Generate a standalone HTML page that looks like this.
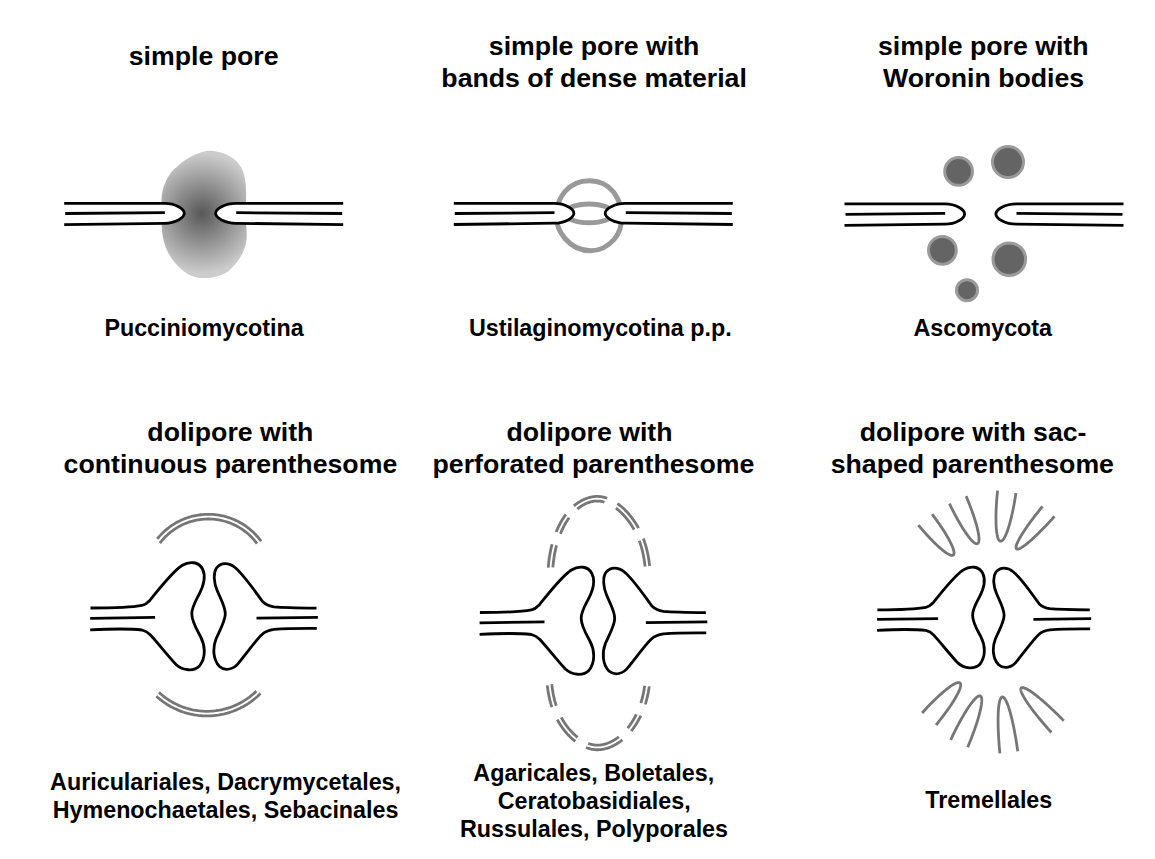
<!DOCTYPE html>
<html><head><meta charset="utf-8"><title>Septal pore types</title>
<style>html,body{margin:0;padding:0;background:#fff;width:1155px;height:859px;overflow:hidden}
svg text{font-family:"Liberation Sans",sans-serif;font-weight:bold;fill:#000}</style></head>
<body><div style="position:relative;width:1155px;height:859px">
<svg width="1155" height="859" viewBox="0 0 1155 859" style="position:absolute;left:0;top:0">
<defs><radialGradient id="blob" gradientUnits="userSpaceOnUse" cx="202" cy="213.5" r="60"><stop offset="0" stop-color="#585858"/><stop offset="1" stop-color="#cccccc"/></radialGradient></defs>
<path d="M207.6 150.8 C222 150.5 235 157 241 167 C245.5 175 246.5 186 246 199 L245.5 213 C245.3 222 247.5 230 246.5 240 C245 252 238 263 228 271.5 C220 277 210 278.5 201 278 C190 277.5 180 270 172 259 C165 249 161.8 237 161.8 225 L161.5 200 C162 188 166 179 171.5 172 C180 163 193 153 207.6 150.8Z" fill="url(#blob)"/>
<path d="M64.2 203.4 L164.7 203.4 C175.53 203.4 184.3 208.87 184.3 213.35 C184.3 217.83 175.53 223.3 164.7 223.3 L64.2 224.6Z" fill="#fff" stroke="none"/><path d="M343.2 203.4 L236 203.4 C224.73 203.4 215.6 208.87 215.6 213.35 C215.6 217.83 224.73 223.3 236 223.3 L343.2 224.6Z" fill="#fff" stroke="none"/><path d="M64.2 203.4 L164.7 203.4 C175.53 203.4 184.3 208.87 184.3 213.35 C184.3 217.83 175.53 223.3 164.7 223.3 L64.2 224.6" fill="none" stroke="#000" stroke-width="2.8"/><path d="M343.2 203.4 L236 203.4 C224.73 203.4 215.6 208.87 215.6 213.35 C215.6 217.83 224.73 223.3 236 223.3 L343.2 224.6" fill="none" stroke="#000" stroke-width="2.8"/><path d="M65.2 213.5 L164.9 212.7 M236.2 212.7 L342.2 213.5" stroke="#000" stroke-width="2.8" fill="none"/>
<path d="M589.5 180.7 C600 180.7 608 185 613.5 192 C619 199.5 621.8 207 621.8 216 C621.8 227 619.5 233 614.5 239 C608.5 246 600 250.7 590.5 250.7 C580 250.7 571 245.5 565 238.5 C559.5 232 556.3 225 556.3 216 C556.3 206 559.5 198 565 191.5 C571 184.5 579 180.7 589.5 180.7Z" fill="none" stroke="#999" stroke-width="5"/>
<ellipse cx="589" cy="213.4" rx="24" ry="9.4" fill="none" stroke="#999" stroke-width="5"/>
<path d="M453.8 203.4 L554.3 203.4 C565.13 203.4 573.9 208.85 573.9 213.3 C573.9 217.75 565.13 223.2 554.3 223.2 L453.8 224.5Z" fill="#fff" stroke="none"/><path d="M732.8 203.4 L625.6 203.4 C614.33 203.4 605.2 208.85 605.2 213.3 C605.2 217.75 614.33 223.2 625.6 223.2 L732.8 224.5Z" fill="#fff" stroke="none"/><path d="M453.8 203.4 L554.3 203.4 C565.13 203.4 573.9 208.85 573.9 213.3 C573.9 217.75 565.13 223.2 554.3 223.2 L453.8 224.5" fill="none" stroke="#000" stroke-width="2.8"/><path d="M732.8 203.4 L625.6 203.4 C614.33 203.4 605.2 208.85 605.2 213.3 C605.2 217.75 614.33 223.2 625.6 223.2 L732.8 224.5" fill="none" stroke="#000" stroke-width="2.8"/><path d="M454.8 213.5 L554.5 212.7 M625.8 212.7 L731.8 213.5" stroke="#000" stroke-width="2.8" fill="none"/>
<circle cx="958.6" cy="171.4" r="13.90" fill="#646464" stroke="#9a9a9a" stroke-width="3"/>
<circle cx="1008" cy="162.1" r="15.50" fill="#646464" stroke="#9a9a9a" stroke-width="3"/>
<circle cx="942.4" cy="250.3" r="13.90" fill="#646464" stroke="#9a9a9a" stroke-width="3"/>
<circle cx="1009.3" cy="259.2" r="16.30" fill="#646464" stroke="#9a9a9a" stroke-width="3"/>
<circle cx="967" cy="290.2" r="10.50" fill="#646464" stroke="#9a9a9a" stroke-width="3"/>
<path d="M844.5 203.8 L945 203.8 C955.83 203.8 964.6 209.38 964.6 213.95 C964.6 218.52 955.83 224.1 945 224.1 L844.5 225.4Z" fill="#fff" stroke="none"/><path d="M1123.5 203.8 L1016.3 203.8 C1005.03 203.8 995.9 209.38 995.9 213.95 C995.9 218.52 1005.03 224.1 1016.3 224.1 L1123.5 225.4Z" fill="#fff" stroke="none"/><path d="M844.5 203.8 L945 203.8 C955.83 203.8 964.6 209.38 964.6 213.95 C964.6 218.52 955.83 224.1 945 224.1 L844.5 225.4" fill="none" stroke="#000" stroke-width="2.8"/><path d="M1123.5 203.8 L1016.3 203.8 C1005.03 203.8 995.9 209.38 995.9 213.95 C995.9 218.52 1005.03 224.1 1016.3 224.1 L1123.5 225.4" fill="none" stroke="#000" stroke-width="2.8"/><path d="M845.5 214.3 L945.2 213.4 M1016.5 213.4 L1122.5 214.3" stroke="#000" stroke-width="2.8" fill="none"/>
<path d="M90.5 608 C115 608 133 607.2 142 605.4 C145 604.8 147 603.5 149.5 600.8 C160 588 172 572 182 565.5 C190 560.5 199 562 202.5 569 C206 576 203.5 586 199 594.5 C195 602 191.5 608 191.8 614 C192 622 197 630 200.5 636.5 C205 645 206.5 657 199.5 666 C194 671.5 183 671 176 664.5 C168 656 157 642 150.5 635 C148 632.3 145.5 630.8 142 630 C132 628.8 115 628.6 90.2 629.9" fill="none" stroke="#000" stroke-width="2.8" stroke-linejoin="round"/><path d="M316.5 608.1 C300 607.9 282 607.5 274 606.8 C269 606.2 265.5 604.5 262.5 601.5 C254 590 244 575 235 567.5 C229 562.5 221 562 216.5 568 C213 573 214 583 217 590 C219.5 597 225.3 606 225.3 614 C225.3 621 219 632 216 639 C212.5 648 213 660 219.5 666.5 C225 671.5 234 669.5 239 662.5 C246 654 256 640 262 634.5 C265 631.5 268.5 630 274 629.3 C285 628.5 300 628.3 316.8 628.4" fill="none" stroke="#000" stroke-width="2.8" stroke-linejoin="round"/><path d="M90.2 618.3 L155.1 617.3" fill="none" stroke="#000" stroke-width="2.8"/><path d="M256.5 618.2 L317.9 617.4" fill="none" stroke="#000" stroke-width="2.8"/>
<path d="M157.2 538.95 L158.49 537.37 L159.83 535.84 L161.22 534.35 L162.65 532.9 L164.13 531.5 L165.66 530.15 L167.22 528.84 L168.82 527.58 L170.47 526.38 L172.15 525.22 L173.86 524.12 L175.61 523.07 L177.39 522.08 L179.2 521.14 L181.04 520.26 L182.9 519.44 L184.79 518.68 L186.7 517.97 L188.64 517.33 L190.59 516.75 L192.56 516.23 L194.54 515.77 L196.54 515.37 L198.55 515.03 L200.57 514.76 L202.6 514.55 L204.63 514.4 L206.67 514.32 L208.71 514.3 L210.74 514.35 L212.78 514.45 L214.81 514.63 L216.83 514.86 L218.85 515.16 L220.85 515.52 L222.85 515.94 L224.83 516.43 L226.79 516.97 L228.74 517.58 L230.66 518.25 L232.56 518.98 L234.44 519.76 L236.3 520.61 L238.13 521.51 L239.92 522.47 L241.69 523.48 L243.43 524.55 L245.13 525.68 L246.79 526.85 L248.42 528.08 L250.01 529.35 L251.55 530.68 L253.06 532.05 L254.52 533.47 L255.94 534.94 L257.31 536.45 L258.63 538 L259.91 539.59 L261.13 541.22" fill="none" stroke="#767676" stroke-width="2.8"/>
<path d="M159.9 543.13 L161.08 541.62 L162.3 540.15 L163.56 538.73 L164.87 537.34 L166.22 535.99 L167.62 534.69 L169.05 533.43 L170.53 532.21 L172.04 531.05 L173.59 529.93 L175.17 528.86 L176.78 527.84 L178.43 526.87 L180.1 525.96 L181.81 525.1 L183.54 524.29 L185.29 523.54 L187.07 522.84 L188.87 522.2 L190.69 521.62 L192.52 521.09 L194.37 520.62 L196.24 520.21 L198.11 519.86 L200 519.57 L201.89 519.34 L203.8 519.17 L205.7 519.06 L207.61 519 L209.52 519.01 L211.43 519.08 L213.33 519.21 L215.23 519.4 L217.12 519.65 L219.01 519.95 L220.88 520.32 L222.74 520.75 L224.59 521.23 L226.42 521.77 L228.23 522.37 L230.03 523.03 L231.8 523.74 L233.54 524.51 L235.27 525.33 L236.96 526.21 L238.63 527.14 L240.27 528.12 L241.87 529.15 L243.45 530.23 L244.98 531.36 L246.49 532.54 L247.95 533.77 L249.37 535.04 L250.76 536.36 L252.1 537.72 L253.39 539.12 L254.65 540.56 L255.85 542.04 L257.01 543.55" fill="none" stroke="#767676" stroke-width="2.8"/>
<path d="M156.33 696.2 L157.79 697.5 L159.28 698.76 L160.8 699.98 L162.35 701.16 L163.94 702.3 L165.55 703.4 L167.19 704.46 L168.86 705.48 L170.55 706.45 L172.27 707.37 L174.01 708.26 L175.78 709.09 L177.56 709.88 L179.37 710.62 L181.19 711.32 L183.03 711.97 L184.89 712.57 L186.76 713.12 L188.65 713.62 L190.55 714.07 L192.46 714.48 L194.38 714.83 L196.31 715.13 L198.25 715.39 L200.19 715.59 L202.13 715.74 L204.08 715.84 L206.03 715.89 L207.99 715.89 L209.94 715.84 L211.89 715.74 L213.84 715.59 L215.78 715.38 L217.71 715.13 L219.64 714.83 L221.56 714.47 L223.47 714.07 L225.37 713.62 L227.26 713.11 L229.13 712.56 L230.99 711.96 L232.83 711.31 L234.65 710.62 L236.46 709.87 L238.24 709.08 L240.01 708.25 L241.75 707.36 L243.47 706.44 L245.16 705.47 L246.83 704.45 L248.47 703.39 L250.08 702.29 L251.67 701.15 L253.22 699.97 L254.74 698.74 L256.23 697.48 L257.69 696.18 L259.11 694.84 L260.49 693.47" fill="none" stroke="#767676" stroke-width="2.8"/>
<path d="M158.99 692.39 L160.34 693.61 L161.72 694.8 L163.13 695.96 L164.57 697.07 L166.03 698.15 L167.53 699.19 L169.05 700.2 L170.6 701.16 L172.17 702.08 L173.77 702.96 L175.38 703.8 L177.02 704.6 L178.68 705.35 L180.36 706.06 L182.05 706.73 L183.77 707.36 L185.49 707.93 L187.24 708.47 L188.99 708.96 L190.76 709.4 L192.54 709.8 L194.32 710.15 L196.12 710.45 L197.92 710.71 L199.73 710.92 L201.55 711.09 L203.37 711.21 L205.19 711.28 L207.01 711.3 L208.83 711.28 L210.65 711.21 L212.47 711.09 L214.29 710.92 L216.1 710.71 L217.9 710.45 L219.7 710.15 L221.48 709.79 L223.26 709.4 L225.03 708.95 L226.78 708.46 L228.53 707.93 L230.25 707.35 L231.97 706.72 L233.66 706.06 L235.34 705.34 L237 704.59 L238.64 703.79 L240.25 702.95 L241.85 702.07 L243.42 701.15 L244.97 700.19 L246.49 699.18 L247.98 698.14 L249.45 697.06 L250.89 695.94 L252.3 694.79 L253.68 693.6 L255.03 692.37 L256.34 691.11" fill="none" stroke="#767676" stroke-width="2.8"/>
<path d="M479.9 612.5 C504.4 612.5 522.4 611.7 531.4 609.9 C534.4 609.3 536.4 608 538.9 605.3 C549.4 592.5 561.4 576.5 571.4 570 C579.4 565 588.4 566.5 591.9 573.5 C595.4 580.5 592.9 590.5 588.4 599 C584.4 606.5 580.9 612.5 581.2 618.5 C581.4 626.5 586.4 634.5 589.9 641 C594.4 649.5 595.9 661.5 588.9 670.5 C583.4 676 572.4 675.5 565.4 669 C557.4 660.5 546.4 646.5 539.9 639.5 C537.4 636.8 534.9 635.3 531.4 634.5 C521.4 633.3 504.4 633.1 479.6 634.4" fill="none" stroke="#000" stroke-width="2.8" stroke-linejoin="round"/><path d="M705.9 612.6 C689.4 612.4 671.4 612 663.4 611.3 C658.4 610.7 654.9 609 651.9 606 C643.4 594.5 633.4 579.5 624.4 572 C618.4 567 610.4 566.5 605.9 572.5 C602.4 577.5 603.4 587.5 606.4 594.5 C608.9 601.5 614.7 610.5 614.7 618.5 C614.7 625.5 608.4 636.5 605.4 643.5 C601.9 652.5 602.4 664.5 608.9 671 C614.4 676 623.4 674 628.4 667 C635.4 658.5 645.4 644.5 651.4 639 C654.4 636 657.9 634.5 663.4 633.8 C674.4 633 689.4 632.8 706.2 632.9" fill="none" stroke="#000" stroke-width="2.8" stroke-linejoin="round"/><path d="M479.6 622.8 L544.5 621.8" fill="none" stroke="#000" stroke-width="2.8"/><path d="M645.9 622.7 L707.3 621.9" fill="none" stroke="#000" stroke-width="2.8"/>
<path d="M573.83 505.94 L574.43 505.44 L575.03 504.96 L575.65 504.48 L576.27 504.01 L576.9 503.55 L577.54 503.11 L578.18 502.67 L578.83 502.25 L579.49 501.84 L580.15 501.44 L580.82 501.06 L581.5 500.69 L582.18 500.33 L582.86 499.98 L583.55 499.65 L584.24 499.34 L584.93 499.03 L585.63 498.75 L586.33 498.47 L587.03 498.22 L587.73 497.98 L588.44 497.75 L589.14 497.54 L589.85 497.35 L590.56 497.18 L591.27 497.02 L591.97 496.89 L592.68 496.77 L592.68 496.77 L593.38 496.66 L594.09 496.58 L594.79 496.52 L595.49 496.47 L596.19 496.44 L596.89 496.43 L597.59 496.43 L598.28 496.45 L598.98 496.49 L599.67 496.55 L600.36 496.62 L601.05 496.71 L601.73 496.81 L602.42 496.93 L603.1 497.07 L603.78 497.22 L604.46 497.38 L605.13 497.56 L605.8 497.76 L606.47 497.97 L607.14 498.19M617.38 503.52 L617.99 503.96 L618.6 504.4 L619.2 504.85 L619.79 505.31 L620.39 505.79 L620.97 506.27 L621.56 506.76 L622.14 507.26 L622.71 507.77 L623.28 508.29 L623.85 508.81 L624.41 509.35 L624.96 509.89 L625.51 510.44 L626.05 510.99 L626.59 511.56 L627.13 512.13 L627.66 512.71 L628.18 513.3 L628.7 513.89 L629.21 514.49 L629.72 515.09 L630.22 515.7 L630.71 516.32 L631.2 516.94 L631.68 517.56 L632.16 518.19 L632.63 518.83 L633.09 519.47 L633.55 520.11 L634 520.76 L634.45 521.42 L634.89 522.07 L635.32 522.73 L635.74 523.39 L636.16 524.06 L636.57 524.73 L636.98 525.4 L637.38 526.08 L637.77 526.75 L638.15 527.43 L638.52 528.11M643.32 538.48 L643.58 539.18 L643.84 539.89 L644.1 540.59 L644.35 541.3 L644.59 542.01 L644.82 542.72 L645.05 543.43 L645.28 544.14 L645.5 544.85 L645.71 545.56 L645.91 546.28 L646.12 547 L646.31 547.71 L646.5 548.43 L646.69 549.15 L646.87 549.87 L647.04 550.59 L647.21 551.32 L647.38 552.04 L647.54 552.77 L647.69 553.49 L647.84 554.22 L647.98 554.95 L648.12 555.68 L648.26 556.41 L648.39 557.14 L648.52 557.87 L648.64 558.61 L648.76 559.34 L648.87 560.08 L648.98 560.81 L649.08 561.55 L649.18 562.29 L649.28 563.03 L649.37 563.77 L649.46 564.51 L649.55 565.25 L649.63 565.99M649.25 686.41 L649.15 687.14 L649.04 687.87 L648.93 688.6 L648.81 689.33 L648.69 690.06 L648.57 690.78 L648.44 691.51 L648.3 692.23 L648.17 692.96 L648.02 693.68 L647.87 694.41 L647.72 695.13 L647.56 695.85 L647.4 696.57 L647.23 697.29 L647.06 698.01 L646.88 698.73 L646.69 699.44 L646.5 700.16 L646.31 700.88 L646.1 701.59 L645.9 702.31 L645.68 703.02 L645.47 703.73 L645.24 704.44M640.78 715.7 L640.45 716.4 L640.1 717.09 L639.75 717.78 L639.39 718.48 L639.03 719.16 L638.66 719.85 L638.28 720.54 L637.89 721.22 L637.5 721.9 L637.1 722.57 L636.69 723.25 L636.28 723.92 L635.85 724.58 L635.42 725.24 L634.99 725.9 L634.54 726.56 L634.09 727.21 L633.64 727.85 L633.17 728.49 L632.7 729.13 L632.22 729.75 L631.73 730.38 L631.24 731M622.37 739.93 L621.75 740.41 L621.13 740.89 L620.5 741.36 L619.86 741.82 L619.22 742.26 L618.57 742.7 L617.91 743.13 L617.25 743.54 L616.59 743.95 L615.92 744.34 L615.24 744.72 L614.56 745.09 L613.88 745.45 L613.19 745.79 L612.5 746.12 L611.8 746.44 L611.1 746.75 L610.4 747.04 L609.7 747.32 L608.99 747.58 L608.29 747.83 L607.58 748.07 L606.87 748.29 L606.15 748.5 L605.44 748.69 L604.73 748.87 L604.01 749.03 L603.3 749.17 L602.58 749.31 L601.87 749.42 L601.15 749.52 L600.44 749.6 L599.73 749.66 L599.02 749.71 L598.31 749.74 L597.6 749.75 L596.9 749.75 L596.2 749.73 L595.5 749.69 L594.8 749.63 L594.1 749.56 L593.41 749.47 L592.72 749.37 L592.03 749.25 L591.34 749.12 L590.66 748.97 L589.98 748.8 L589.3 748.63 L588.63 748.43 L587.95 748.22 L587.29 748 L586.62 747.77 L585.96 747.52M575.27 741.38 L574.68 740.92 L574.1 740.45 L573.52 739.97 L572.94 739.48 L572.37 738.98 L571.81 738.48 L571.25 737.96 L570.69 737.44 L570.14 736.91 L569.6 736.37 L569.06 735.82 L568.53 735.26 L568 734.7 L567.48 734.13 L566.96 733.56 L566.45 732.98 L565.95 732.39 L565.45 731.79 L564.96 731.19 L564.48 730.58 L564 729.97 L563.52 729.35 L563.06 728.73 L562.6 728.1 L562.14 727.47 L561.7 726.83 L561.26 726.19 L560.83 725.55 L560.4 724.9 L559.98 724.24 L559.57 723.59 L559.17 722.93 L558.77 722.27 L558.38 721.6 L558 720.93 L557.62 720.26 L557.25 719.59M551.89 707.18 L551.66 706.47 L551.43 705.77 L551.21 705.06 L550.99 704.35 L550.79 703.64 L550.58 702.93 L550.39 702.21 L550.19 701.5 L550.01 700.78 L549.83 700.06 L549.66 699.34 L549.49 698.62 L549.33 697.9 L549.17 697.17 L549.02 696.45 L548.87 695.72 L548.73 694.99 L548.59 694.27 L548.46 693.54 L548.33 692.8 L548.21 692.07 L548.09 691.34 L547.98 690.6 L547.87 689.87 L547.77 689.13 L547.67 688.39 L547.58 687.65 L547.49 686.91 L547.4 686.17 L547.32 685.43M548.23 567.61 L548.29 566.87 L548.35 566.13 L548.42 565.4 L548.49 564.66 L548.57 563.92 L548.65 563.19 L548.73 562.46 L548.81 561.72 L548.9 560.99 L548.99 560.26 L549.09 559.52 L549.19 558.79 L549.29 558.06 L549.4 557.33 L549.51 556.6 L549.63 555.87 L549.75 555.14 L549.87 554.41 L550 553.68 L550.13 552.95 L550.27 552.23 L550.41 551.5 L550.55 550.77 L550.7 550.05 L550.86 549.32 L551.02 548.6 L551.18 547.87 L551.35 547.15 L551.52 546.43 L551.7 545.7 L551.89 544.98 L552.07 544.26M556.12 532.08 L556.41 531.37 L556.71 530.66 L557.01 529.95 L557.32 529.24 L557.64 528.53 L557.96 527.83 L558.29 527.12 L558.63 526.42 L558.97 525.73 L559.32 525.03 L559.67 524.34 L560.04 523.65 L560.41 522.96 L560.79 522.28 L561.17 521.6 L561.56 520.92 L561.96 520.25 L562.36 519.58 L562.78 518.92 L563.2 518.26 L563.63 517.61 L564.06 516.96 L564.5 516.32 L564.95 515.68 L565.41 515.05 L565.88 514.43M577.34 509 L577.89 508.56 L578.44 508.13 L579 507.71 L579.57 507.3 L580.14 506.9 L580.72 506.51 L581.3 506.13 L581.89 505.77 L582.49 505.41 L583.08 505.07 L583.68 504.73 L584.29 504.41 L584.89 504.11 L585.5 503.81 L586.11 503.53 L586.73 503.27 L587.34 503.02 L587.95 502.78 L588.56 502.55 L589.17 502.35 L589.78 502.15 L590.39 501.97 L591 501.81 L591.6 501.66 L592.2 501.53 L592.8 501.41 L593.45 501.3 L593.34 501.32 L593.98 501.23 L594.57 501.16 L595.16 501.1 L595.75 501.06 L596.33 501.04 L596.92 501.03 L597.5 501.03 L598.08 501.05 L598.67 501.08 L599.25 501.13 L599.83 501.19 L600.41 501.26 L600.99 501.35 L601.58 501.45 L602.16 501.57 L602.74 501.7 L603.32 501.84 L603.9 501.99 L604.48 502.16M615.86 508.09 L616.4 508.51 L616.95 508.93 L617.5 509.36 L618.04 509.81 L618.57 510.26 L619.11 510.72 L619.64 511.19 L620.17 511.67 L620.69 512.16 L621.21 512.65 L621.73 513.16 L622.24 513.67 L622.75 514.19 L623.25 514.72 L623.75 515.25 L624.24 515.79 L624.73 516.34 L625.22 516.9 L625.7 517.46 L626.17 518.03 L626.65 518.6 L627.11 519.18 L627.57 519.76 L628.03 520.35 L628.47 520.95 L628.92 521.55 L629.36 522.15 L629.79 522.76 L630.22 523.37 L630.64 523.99 L631.05 524.61 L631.46 525.23 L631.86 525.86 L632.26 526.49 L632.64 527.12 L633.03 527.76 L633.4 528.39 L633.77 529.03 L634.13 529.67M639.28 540.8 L639.52 541.46 L639.76 542.13 L640 542.8 L640.23 543.48 L640.45 544.15 L640.67 544.83 L640.88 545.5 L641.09 546.18 L641.29 546.86 L641.49 547.54 L641.68 548.22 L641.87 548.91 L642.05 549.59 L642.23 550.28 L642.4 550.97 L642.57 551.66 L642.73 552.35 L642.89 553.05 L643.04 553.74 L643.19 554.44 L643.33 555.13 L643.47 555.83 L643.6 556.53 L643.73 557.23 L643.86 557.94 L643.98 558.64 L644.1 559.35 L644.21 560.06 L644.32 560.76 L644.43 561.47 L644.53 562.19 L644.62 562.9 L644.72 563.61 L644.81 564.33 L644.89 565.04 L644.97 565.76 L645.05 566.48M644.69 685.78 L644.59 686.49 L644.49 687.19 L644.38 687.89 L644.27 688.59 L644.16 689.29 L644.04 689.99 L643.91 690.69 L643.78 691.38 L643.65 692.08 L643.51 692.77 L643.37 693.47 L643.22 694.16 L643.07 694.85 L642.92 695.54 L642.76 696.22 L642.59 696.91 L642.42 697.6 L642.24 698.28 L642.06 698.96 L641.87 699.65 L641.68 700.33 L641.48 701.01 L641.28 701.69 L641.07 702.36 L640.86 703.04M636.31 714.38 L635.99 715.03 L635.66 715.69 L635.32 716.34 L634.97 716.99 L634.62 717.64 L634.26 718.29 L633.9 718.93 L633.53 719.57 L633.15 720.21 L632.77 720.84 L632.38 721.47 L631.98 722.1 L631.58 722.72 L631.17 723.34 L630.75 723.95 L630.33 724.56 L629.9 725.17 L629.47 725.77 L629.02 726.36 L628.58 726.95 L628.12 727.53 L627.66 728.1M618.92 736.78 L618.36 737.22 L617.78 737.65 L617.2 738.06 L616.62 738.47 L616.03 738.87 L615.43 739.25 L614.83 739.63 L614.23 740 L613.62 740.35 L613.01 740.69 L612.4 741.03 L611.78 741.35 L611.17 741.66 L610.54 741.96 L609.92 742.24 L609.3 742.52 L608.67 742.78 L608.04 743.02 L607.42 743.26 L606.79 743.48 L606.16 743.69 L605.54 743.89 L604.91 744.07 L604.29 744.24 L603.66 744.39 L603.04 744.53 L602.42 744.66 L601.81 744.77 L601.19 744.87 L600.58 744.95 L599.97 745.02 L599.37 745.08 L598.77 745.12 L598.17 745.14 L597.58 745.15 L596.98 745.15 L596.39 745.13 L595.8 745.1 L595.21 745.05 L594.62 744.99 L594.03 744.92 L593.45 744.83 L592.86 744.73 L592.27 744.61 L591.69 744.49 L591.11 744.34 L590.52 744.19 L589.94 744.02 L589.36 743.84 L588.78 743.65 L588.2 743.45M577.54 737.31 L577 736.88 L576.47 736.44 L575.94 735.99 L575.42 735.53 L574.9 735.07 L574.38 734.59 L573.87 734.11 L573.36 733.62 L572.86 733.12 L572.36 732.61 L571.86 732.1 L571.37 731.57 L570.89 731.05 L570.41 730.51 L569.93 729.97 L569.46 729.42 L569 728.86 L568.54 728.3 L568.08 727.73 L567.63 727.16 L567.19 726.58 L566.75 725.99 L566.32 725.41 L565.9 724.81 L565.48 724.21 L565.07 723.61 L564.66 723.01 L564.26 722.39 L563.87 721.78 L563.48 721.16 L563.1 720.54 L562.73 719.92 L562.36 719.3 L562 718.67 L561.65 718.04 L561.3 717.41M556.25 705.71 L556.03 705.05 L555.81 704.38 L555.61 703.71 L555.4 703.04 L555.2 702.36 L555.01 701.69 L554.83 701.01 L554.64 700.33 L554.47 699.65 L554.3 698.96 L554.13 698.28 L553.97 697.59 L553.82 696.9 L553.67 696.21 L553.52 695.52 L553.38 694.83 L553.25 694.13 L553.11 693.43 L552.99 692.74 L552.87 692.03 L552.75 691.33 L552.64 690.63 L552.53 689.92 L552.43 689.22 L552.33 688.51 L552.23 687.8 L552.14 687.08 L552.06 686.37 L551.97 685.66 L551.9 684.94 L551.82 684.22M552.87 567.26 L552.93 566.55 L553 565.83 L553.07 565.11 L553.14 564.4 L553.22 563.69 L553.3 562.97 L553.38 562.26 L553.47 561.55 L553.56 560.84 L553.65 560.13 L553.74 559.42 L553.84 558.72 L553.95 558.01 L554.06 557.3 L554.17 556.6 L554.28 555.9 L554.4 555.19 L554.53 554.49 L554.65 553.79 L554.78 553.09 L554.92 552.39 L555.06 551.69 L555.2 550.99 L555.35 550.3 L555.51 549.6 L555.66 548.91 L555.83 548.21 L555.99 547.52 L556.16 546.82 L556.34 546.13 L556.52 545.44M560.38 533.8 L560.66 533.13 L560.94 532.45 L561.23 531.77 L561.53 531.1 L561.83 530.43 L562.13 529.76 L562.45 529.1 L562.76 528.43 L563.09 527.77 L563.42 527.11 L563.76 526.46 L564.1 525.81 L564.45 525.16 L564.8 524.52 L565.16 523.88 L565.53 523.25 L565.9 522.62 L566.28 521.99 L566.67 521.38 L567.06 520.76 L567.46 520.15 L567.86 519.55 L568.28 518.95 L568.69 518.36 L569.12 517.78" fill="none" stroke="#767676" stroke-width="2.8"/>
<path d="M877.38 609.79 C900.41 609.79 917.33 609.04 925.79 607.34 C928.61 606.78 930.49 605.56 932.84 603.02 C942.71 590.99 953.99 575.95 963.39 569.84 C970.91 565.14 979.37 566.55 982.66 573.13 C985.95 579.71 983.6 589.11 979.37 597.1 C975.61 604.15 972.32 609.79 972.6 615.43 C972.79 622.95 977.49 630.47 980.78 636.58 C985.01 644.57 986.42 655.85 979.84 664.31 C974.67 669.48 964.33 669.01 957.75 662.9 C950.23 654.91 939.89 641.75 933.78 635.17 C931.43 632.63 929.08 631.22 925.79 630.47 C916.39 629.34 900.41 629.15 877.1 630.37" fill="none" stroke="#000" stroke-width="2.8" stroke-linejoin="round"/><path d="M1089.82 609.88 C1074.31 609.69 1057.39 609.32 1049.87 608.66 C1045.17 608.1 1041.88 606.5 1039.06 603.68 C1031.07 592.87 1021.67 578.77 1013.21 571.72 C1007.57 567.02 1000.05 566.55 995.82 572.19 C992.53 576.89 993.47 586.29 996.29 592.87 C998.64 599.45 1004.09 607.91 1004.09 615.43 C1004.09 622.01 998.17 632.35 995.35 638.93 C992.06 647.39 992.53 658.67 998.64 664.78 C1003.81 669.48 1012.27 667.6 1016.97 661.02 C1023.55 653.03 1032.95 639.87 1038.59 634.7 C1041.41 631.88 1044.7 630.47 1049.87 629.81 C1060.21 629.06 1074.31 628.87 1090.1 628.96" fill="none" stroke="#000" stroke-width="2.8" stroke-linejoin="round"/><path d="M877.1 619.47 L938.1 618.53" fill="none" stroke="#000" stroke-width="2.8"/><path d="M1033.42 619.38 L1091.14 618.62" fill="none" stroke="#000" stroke-width="2.8"/>
<path d="M918.37 525.11 L919.44 526.39 L920.49 527.63 L921.53 528.85 L922.56 530.03 L923.56 531.19 L924.56 532.31 L925.53 533.4 L926.49 534.46 L927.44 535.49 L928.37 536.5 L929.28 537.47 L930.18 538.42 L931.06 539.33 L931.92 540.22 L932.77 541.08 L933.6 541.91 L934.41 542.72 L935.21 543.49 L935.98 544.24 L936.75 544.96 L937.49 545.66 L938.22 546.33 L938.93 546.97 L939.62 547.59 L940.3 548.18 L940.96 548.75 L941.6 549.29 L942.23 549.8 L942.84 550.29 L943.43 550.76 L944 551.2 L944.56 551.62 L945.1 552.01 L945.62 552.38 L946.12 552.73 L946.61 553.05 L947.08 553.36 L947.54 553.64 L947.98 553.89 L948.4 554.13 L948.8 554.34 L949.19 554.53 L949.56 554.7 L949.91 554.85 L950.25 554.99 L950.57 555.1 L950.88 555.19 L951.17 555.26 L951.44 555.31 L951.7 555.35 L951.94 555.37 L952.17 555.37 L952.38 555.36 L952.57 555.33 L952.75 555.28 L952.91 555.22 L953.06 555.15 L953.19 555.08 L953.3 555 L953.4 554.91 L953.5 554.8 L953.61 554.68 L953.7 554.53 L953.78 554.36 L953.86 554.18 L953.92 553.98 L953.97 553.76 L954 553.52 L954.03 553.26 L954.04 552.98 L954.03 552.69 L954.01 552.37 L953.98 552.03 L953.93 551.67 L953.86 551.29 L953.78 550.89 L953.68 550.47 L953.56 550.03 L953.43 549.56 L953.28 549.08 L953.11 548.57 L952.93 548.05 L952.72 547.5 L952.5 546.93 L952.26 546.33 L951.99 545.72 L951.71 545.08 L951.41 544.42 L951.09 543.74 L950.75 543.04 L950.39 542.31 L950.01 541.56 L949.61 540.79 L949.19 540 L948.75 539.18 L948.28 538.34 L947.8 537.48 L947.29 536.6 L946.76 535.69 L946.21 534.76 L945.63 533.81 L945.03 532.84 L944.41 531.84 L943.77 530.82 L943.1 529.78 L942.4 528.71 L941.69 527.63 L940.95 526.52 L940.18 525.38 L939.39 524.23 L938.58 523.05 L937.73 521.85 L936.87 520.63 L935.97 519.39 L935.05 518.12 L934.11 516.83 L933.13 515.52 L932.13 514.19M949.48 503.65 L950.25 505.25 L951.01 506.8 L951.76 508.33 L952.5 509.81 L953.24 511.26 L953.97 512.68 L954.69 514.06 L955.4 515.4 L956.1 516.71 L956.8 517.99 L957.48 519.23 L958.16 520.44 L958.82 521.61 L959.48 522.75 L960.12 523.86 L960.76 524.93 L961.39 525.97 L962 526.98 L962.61 527.95 L963.2 528.9 L963.78 529.81 L964.36 530.69 L964.92 531.54 L965.47 532.36 L966.01 533.14 L966.54 533.9 L967.05 534.62 L967.56 535.32 L968.06 535.98 L968.54 536.62 L969.01 537.22 L969.47 537.8 L969.92 538.35 L970.36 538.87 L970.79 539.36 L971.2 539.82 L971.61 540.26 L972 540.66 L972.38 541.04 L972.75 541.4 L973.1 541.72 L973.45 542.02 L973.78 542.3 L974.1 542.55 L974.41 542.77 L974.71 542.97 L975 543.15 L975.28 543.3 L975.54 543.42 L975.79 543.53 L976.03 543.61 L976.26 543.68 L976.48 543.72 L976.68 543.74 L976.87 543.74 L977.05 543.73 L977.22 543.7 L977.37 543.65 L977.5 543.6 L977.62 543.54 L977.76 543.45 L977.89 543.35 L978.02 543.22 L978.15 543.08 L978.27 542.91 L978.38 542.72 L978.48 542.51 L978.58 542.27 L978.67 542.01 L978.75 541.73 L978.81 541.43 L978.87 541.09 L978.92 540.74 L978.96 540.36 L978.99 539.95 L979 539.52 L979 539.06 L979 538.58 L978.98 538.07 L978.94 537.53 L978.9 536.97 L978.84 536.38 L978.77 535.76 L978.68 535.12 L978.58 534.44 L978.47 533.74 L978.34 533.02 L978.2 532.26 L978.05 531.48 L977.88 530.67 L977.69 529.83 L977.49 528.96 L977.27 528.06 L977.04 527.14 L976.79 526.18 L976.53 525.2 L976.25 524.19 L975.95 523.15 L975.64 522.08 L975.31 520.98 L974.96 519.85 L974.59 518.69 L974.21 517.51 L973.81 516.29 L973.39 515.04 L972.95 513.77 L972.49 512.46 L972.02 511.13 L971.52 509.76 L971 508.37 L970.47 506.94 L969.91 505.49 L969.33 504.01 L968.74 502.5 L968.12 500.95 L967.47 499.38 L966.81 497.78 L966.12 496.15M997.56 490.73 L997.37 492.56 L997.2 494.35 L997.04 496.1 L996.89 497.82 L996.76 499.5 L996.63 501.15 L996.52 502.75 L996.42 504.33 L996.33 505.87 L996.25 507.37 L996.18 508.84 L996.12 510.27 L996.07 511.67 L996.03 513.03 L996 514.36 L995.98 515.65 L995.96 516.91 L995.96 518.13 L995.96 519.32 L995.97 520.48 L995.99 521.6 L996.02 522.69 L996.05 523.74 L996.09 524.76 L996.14 525.75 L996.19 526.7 L996.25 527.62 L996.32 528.51 L996.39 529.37 L996.47 530.19 L996.56 530.98 L996.65 531.74 L996.75 532.47 L996.85 533.16 L996.96 533.83 L997.07 534.46 L997.19 535.06 L997.31 535.63 L997.43 536.18 L997.57 536.69 L997.7 537.17 L997.84 537.62 L997.98 538.04 L998.13 538.44 L998.27 538.8 L998.43 539.14 L998.58 539.45 L998.74 539.73 L998.9 539.99 L999.06 540.22 L999.22 540.42 L999.39 540.6 L999.55 540.75 L999.72 540.88 L999.88 540.99 L1000.05 541.07 L1000.21 541.13 L1000.36 541.18 L1000.5 541.2 L1000.64 541.21 L1000.8 541.21 L1000.97 541.19 L1001.15 541.15 L1001.34 541.09 L1001.53 541 L1001.73 540.9 L1001.93 540.76 L1002.14 540.61 L1002.35 540.43 L1002.57 540.22 L1002.79 539.98 L1003.02 539.72 L1003.25 539.43 L1003.49 539.12 L1003.73 538.77 L1003.97 538.4 L1004.22 537.99 L1004.47 537.56 L1004.72 537.1 L1004.98 536.61 L1005.24 536.08 L1005.5 535.53 L1005.77 534.94 L1006.04 534.33 L1006.31 533.68 L1006.59 533 L1006.87 532.29 L1007.15 531.54 L1007.43 530.77 L1007.71 529.96 L1008 529.11 L1008.29 528.24 L1008.58 527.33 L1008.87 526.38 L1009.17 525.4 L1009.46 524.39 L1009.76 523.34 L1010.06 522.26 L1010.36 521.15 L1010.66 520 L1010.96 518.81 L1011.26 517.59 L1011.56 516.33 L1011.86 515.04 L1012.16 513.71 L1012.46 512.34 L1012.76 510.94 L1013.06 509.5 L1013.36 508.03 L1013.65 506.51 L1013.95 504.96 L1014.24 503.38 L1014.53 501.75 L1014.82 500.09 L1015.11 498.39 L1015.39 496.65 L1015.67 494.88 L1015.94 493.07M1054.42 516.41 L1053.21 517.77 L1052.02 519.09 L1050.85 520.38 L1049.69 521.64 L1048.56 522.87 L1047.45 524.07 L1046.35 525.23 L1045.27 526.36 L1044.22 527.47 L1043.18 528.54 L1042.16 529.58 L1041.17 530.59 L1040.19 531.57 L1039.23 532.52 L1038.29 533.44 L1037.38 534.33 L1036.48 535.2 L1035.6 536.03 L1034.74 536.84 L1033.91 537.61 L1033.09 538.36 L1032.29 539.08 L1031.52 539.78 L1030.76 540.45 L1030.02 541.09 L1029.31 541.7 L1028.61 542.28 L1027.94 542.84 L1027.28 543.38 L1026.64 543.89 L1026.03 544.37 L1025.43 544.83 L1024.86 545.26 L1024.3 545.67 L1023.76 546.05 L1023.24 546.41 L1022.75 546.74 L1022.27 547.05 L1021.81 547.34 L1021.37 547.6 L1020.95 547.84 L1020.55 548.06 L1020.16 548.26 L1019.8 548.43 L1019.45 548.59 L1019.13 548.72 L1018.82 548.83 L1018.53 548.92 L1018.26 549 L1018 549.05 L1017.77 549.08 L1017.55 549.1 L1017.35 549.1 L1017.16 549.08 L1016.99 549.05 L1016.84 549 L1016.71 548.94 L1016.59 548.87 L1016.5 548.8 L1016.42 548.72 L1016.33 548.62 L1016.25 548.49 L1016.18 548.35 L1016.12 548.19 L1016.07 548.01 L1016.04 547.81 L1016.02 547.59 L1016.02 547.35 L1016.03 547.09 L1016.06 546.81 L1016.11 546.51 L1016.17 546.19 L1016.25 545.85 L1016.35 545.48 L1016.46 545.1 L1016.6 544.69 L1016.75 544.26 L1016.92 543.8 L1017.11 543.33 L1017.33 542.83 L1017.56 542.31 L1017.81 541.77 L1018.08 541.2 L1018.38 540.61 L1018.69 539.99 L1019.03 539.36 L1019.39 538.7 L1019.77 538.01 L1020.17 537.31 L1020.6 536.57 L1021.05 535.82 L1021.52 535.04 L1022.01 534.24 L1022.53 533.41 L1023.07 532.56 L1023.63 531.68 L1024.22 530.78 L1024.83 529.86 L1025.47 528.91 L1026.13 527.94 L1026.82 526.94 L1027.53 525.92 L1028.27 524.88 L1029.04 523.81 L1029.83 522.71 L1030.64 521.6 L1031.48 520.45 L1032.35 519.29 L1033.25 518.09 L1034.17 516.88 L1035.12 515.64 L1036.1 514.38 L1037.11 513.09 L1038.15 511.78 L1039.21 510.44 L1040.3 509.08 L1041.43 507.7 L1042.58 506.29M922.08 713.01 L923.25 711.71 L924.41 710.44 L925.55 709.2 L926.68 708 L927.79 706.83 L928.88 705.69 L929.95 704.58 L931 703.51 L932.04 702.46 L933.06 701.44 L934.05 700.46 L935.04 699.5 L936 698.57 L936.94 697.68 L937.87 696.81 L938.77 695.97 L939.66 695.16 L940.53 694.37 L941.38 693.62 L942.21 692.89 L943.02 692.19 L943.81 691.51 L944.59 690.86 L945.34 690.24 L946.08 689.65 L946.79 689.08 L947.49 688.54 L948.17 688.02 L948.83 687.53 L949.46 687.07 L950.09 686.62 L950.69 686.21 L951.27 685.82 L951.83 685.45 L952.38 685.1 L952.91 684.78 L953.41 684.48 L953.9 684.21 L954.37 683.96 L954.82 683.73 L955.26 683.52 L955.67 683.33 L956.07 683.17 L956.44 683.02 L956.8 682.9 L957.15 682.79 L957.47 682.71 L957.78 682.64 L958.07 682.6 L958.34 682.57 L958.59 682.56 L958.83 682.57 L959.05 682.59 L959.25 682.63 L959.44 682.68 L959.61 682.75 L959.76 682.83 L959.89 682.91 L960 683 L960.1 683.09 L960.21 683.21 L960.31 683.35 L960.4 683.51 L960.48 683.69 L960.55 683.88 L960.6 684.09 L960.65 684.33 L960.67 684.58 L960.69 684.85 L960.68 685.14 L960.67 685.46 L960.63 685.79 L960.58 686.14 L960.51 686.52 L960.43 686.91 L960.32 687.33 L960.2 687.77 L960.06 688.23 L959.9 688.71 L959.72 689.21 L959.52 689.74 L959.3 690.28 L959.06 690.85 L958.81 691.44 L958.53 692.05 L958.23 692.69 L957.9 693.35 L957.56 694.03 L957.2 694.73 L956.81 695.45 L956.4 696.2 L955.97 696.97 L955.51 697.76 L955.04 698.58 L954.54 699.42 L954.01 700.28 L953.47 701.17 L952.89 702.07 L952.3 703 L951.68 703.96 L951.03 704.93 L950.36 705.93 L949.67 706.95 L948.95 708 L948.2 709.07 L947.43 710.16 L946.63 711.27 L945.81 712.41 L944.95 713.57 L944.07 714.75 L943.17 715.95 L942.23 717.18 L941.27 718.42 L940.28 719.69 L939.26 720.99 L938.21 722.3 L937.13 723.64 L936.02 724.99M950.73 739.79 L951.55 738.05 L952.36 736.36 L953.16 734.7 L953.96 733.08 L954.74 731.5 L955.52 729.95 L956.29 728.45 L957.04 726.98 L957.79 725.56 L958.53 724.16 L959.26 722.81 L959.97 721.49 L960.68 720.21 L961.38 718.97 L962.06 717.76 L962.74 716.58 L963.4 715.45 L964.05 714.34 L964.69 713.28 L965.32 712.24 L965.94 711.25 L966.54 710.28 L967.14 709.35 L967.72 708.46 L968.29 707.6 L968.85 706.77 L969.39 705.97 L969.93 705.21 L970.45 704.48 L970.96 703.78 L971.46 703.12 L971.94 702.48 L972.41 701.88 L972.87 701.31 L973.32 700.77 L973.76 700.26 L974.18 699.78 L974.59 699.33 L974.99 698.91 L975.37 698.52 L975.75 698.16 L976.11 697.82 L976.46 697.52 L976.79 697.24 L977.11 696.99 L977.43 696.77 L977.72 696.57 L978.01 696.4 L978.28 696.25 L978.54 696.13 L978.79 696.03 L979.03 695.96 L979.25 695.91 L979.46 695.88 L979.66 695.87 L979.84 695.88 L980.02 695.91 L980.17 695.95 L980.3 696 L980.42 696.06 L980.56 696.15 L980.7 696.26 L980.83 696.39 L980.95 696.54 L981.07 696.72 L981.18 696.92 L981.29 697.14 L981.38 697.39 L981.47 697.66 L981.54 697.97 L981.61 698.29 L981.66 698.65 L981.7 699.03 L981.73 699.43 L981.75 699.87 L981.76 700.33 L981.76 700.82 L981.74 701.34 L981.71 701.89 L981.66 702.47 L981.6 703.07 L981.53 703.71 L981.45 704.38 L981.35 705.07 L981.23 705.79 L981.1 706.55 L980.96 707.33 L980.8 708.15 L980.62 709 L980.43 709.87 L980.22 710.78 L980 711.72 L979.76 712.69 L979.5 713.69 L979.23 714.72 L978.94 715.78 L978.63 716.88 L978.31 718.01 L977.96 719.17 L977.6 720.36 L977.22 721.58 L976.82 722.83 L976.4 724.12 L975.97 725.44 L975.51 726.79 L975.04 728.17 L974.54 729.59 L974.02 731.04 L973.49 732.52 L972.93 734.03 L972.35 735.58 L971.75 737.16 L971.13 738.77 L970.48 740.41 L969.82 742.09 L969.13 743.8 L968.41 745.54 L967.67 747.31M999.88 753.3 L999.69 751.25 L999.5 749.25 L999.33 747.29 L999.17 745.37 L999.03 743.48 L998.89 741.64 L998.77 739.84 L998.66 738.08 L998.56 736.36 L998.47 734.68 L998.39 733.04 L998.32 731.43 L998.25 729.87 L998.2 728.35 L998.16 726.86 L998.13 725.42 L998.1 724.01 L998.09 722.65 L998.08 721.32 L998.08 720.03 L998.09 718.77 L998.11 717.56 L998.13 716.38 L998.16 715.24 L998.2 714.14 L998.24 713.08 L998.29 712.05 L998.35 711.06 L998.41 710.11 L998.49 709.19 L998.56 708.31 L998.64 707.46 L998.73 706.65 L998.82 705.88 L998.92 705.14 L999.03 704.44 L999.14 703.77 L999.25 703.13 L999.37 702.53 L999.49 701.96 L999.62 701.43 L999.75 700.93 L999.88 700.46 L1000.02 700.02 L1000.16 699.62 L1000.3 699.24 L1000.45 698.9 L1000.6 698.59 L1000.75 698.31 L1000.91 698.06 L1001.07 697.84 L1001.22 697.64 L1001.38 697.47 L1001.54 697.33 L1001.7 697.22 L1001.86 697.13 L1002.02 697.07 L1002.17 697.02 L1002.3 697 L1002.43 696.99 L1002.59 697 L1002.76 697.03 L1002.93 697.08 L1003.11 697.15 L1003.3 697.25 L1003.49 697.37 L1003.69 697.53 L1003.9 697.71 L1004.11 697.92 L1004.32 698.15 L1004.54 698.42 L1004.76 698.72 L1004.99 699.05 L1005.22 699.41 L1005.46 699.8 L1005.7 700.23 L1005.94 700.68 L1006.19 701.17 L1006.44 701.7 L1006.69 702.26 L1006.95 702.85 L1007.21 703.47 L1007.47 704.13 L1007.74 704.83 L1008.01 705.56 L1008.28 706.33 L1008.56 707.13 L1008.84 707.97 L1009.12 708.85 L1009.4 709.76 L1009.69 710.71 L1009.98 711.7 L1010.27 712.72 L1010.56 713.79 L1010.86 714.89 L1011.15 716.03 L1011.45 717.2 L1011.75 718.42 L1012.05 719.67 L1012.35 720.97 L1012.65 722.3 L1012.95 723.68 L1013.26 725.09 L1013.56 726.54 L1013.86 728.04 L1014.17 729.57 L1014.47 731.14 L1014.77 732.76 L1015.08 734.42 L1015.38 736.11 L1015.68 737.85 L1015.98 739.63 L1016.27 741.46 L1016.57 743.32 L1016.86 745.23 L1017.15 747.18 L1017.44 749.17 L1017.72 751.2M1063.77 720.76 L1062.4 719.36 L1061.06 718 L1059.73 716.67 L1058.43 715.38 L1057.15 714.12 L1055.89 712.89 L1054.65 711.7 L1053.44 710.54 L1052.25 709.41 L1051.08 708.31 L1049.93 707.25 L1048.81 706.21 L1047.71 705.21 L1046.63 704.24 L1045.58 703.3 L1044.54 702.39 L1043.54 701.51 L1042.55 700.66 L1041.59 699.84 L1040.65 699.05 L1039.73 698.29 L1038.84 697.56 L1037.96 696.85 L1037.12 696.17 L1036.29 695.53 L1035.49 694.91 L1034.71 694.31 L1033.95 693.75 L1033.22 693.21 L1032.51 692.7 L1031.82 692.21 L1031.16 691.76 L1030.51 691.32 L1029.89 690.92 L1029.29 690.54 L1028.72 690.18 L1028.16 689.85 L1027.63 689.54 L1027.12 689.26 L1026.63 689 L1026.17 688.76 L1025.72 688.55 L1025.3 688.36 L1024.9 688.19 L1024.52 688.05 L1024.16 687.92 L1023.82 687.82 L1023.5 687.74 L1023.2 687.68 L1022.92 687.64 L1022.66 687.62 L1022.42 687.61 L1022.21 687.62 L1022.01 687.66 L1021.83 687.7 L1021.66 687.76 L1021.52 687.83 L1021.4 687.92 L1021.3 688 L1021.21 688.09 L1021.12 688.21 L1021.04 688.35 L1020.97 688.51 L1020.91 688.68 L1020.87 688.88 L1020.84 689.1 L1020.83 689.34 L1020.84 689.6 L1020.86 689.88 L1020.9 690.18 L1020.96 690.5 L1021.05 690.84 L1021.15 691.21 L1021.27 691.6 L1021.41 692.01 L1021.57 692.45 L1021.76 692.9 L1021.96 693.38 L1022.19 693.89 L1022.44 694.41 L1022.71 694.96 L1023.01 695.54 L1023.33 696.14 L1023.67 696.76 L1024.04 697.4 L1024.43 698.07 L1024.85 698.76 L1025.29 699.48 L1025.75 700.22 L1026.24 700.99 L1026.76 701.78 L1027.3 702.59 L1027.87 703.43 L1028.47 704.3 L1029.09 705.19 L1029.74 706.1 L1030.41 707.04 L1031.11 708 L1031.84 708.99 L1032.6 710 L1033.39 711.04 L1034.2 712.1 L1035.05 713.19 L1035.92 714.3 L1036.82 715.44 L1037.75 716.6 L1038.71 717.78 L1039.7 718.99 L1040.73 720.23 L1041.78 721.49 L1042.86 722.77 L1043.97 724.08 L1045.12 725.42 L1046.3 726.77 L1047.51 728.15 L1048.75 729.56 L1050.02 730.99 L1051.33 732.44" fill="none" stroke="#767676" stroke-width="2.8" stroke-linecap="butt" stroke-linejoin="round"/>
<text x="128.7" y="64.6" font-size="26.7">simple pore</text>
<text x="488.85" y="55" font-size="26.7">simple pore with</text>
<text x="441.35" y="86.8" font-size="26.7">bands of dense material</text>
<text x="877.95" y="55" font-size="26.7">simple pore with</text>
<text x="883.05" y="86.8" font-size="26.7">Woronin bodies</text>
<text x="104.4" y="336" font-size="23.3">Pucciniomycotina</text>
<text x="468.9" y="336" font-size="23.3">Ustilaginomycotina p.p.</text>
<text x="913.5" y="336.3" font-size="23.3">Ascomycota</text>
<text x="147.35" y="440.7" font-size="26.7">dolipore with</text>
<text x="63.6" y="472.9" font-size="26.7">continuous parenthesome</text>
<text x="506.5" y="440.8" font-size="26.7">dolipore with</text>
<text x="432.5" y="472.9" font-size="26.7">perforated parenthesome</text>
<text x="859.65" y="440.7" font-size="26.7">dolipore with sac-</text>
<text x="830.7" y="472.9" font-size="26.7">shaped parenthesome</text>
<text x="50.1" y="789.7" font-size="23.3">Auriculariales, Dacrymycetales,</text>
<text x="52.7" y="818" font-size="23.3">Hymenochaetales, Sebacinales</text>
<text x="473.35" y="780.8" font-size="23.3">Agaricales, Boletales,</text>
<text x="497.7" y="809.3" font-size="23.3">Ceratobasidiales,</text>
<text x="460" y="836.7" font-size="23.3">Russulales, Polyporales</text>
<text x="925.35" y="807.9" font-size="23.3">Tremellales</text>
</svg>
</div></body></html>
